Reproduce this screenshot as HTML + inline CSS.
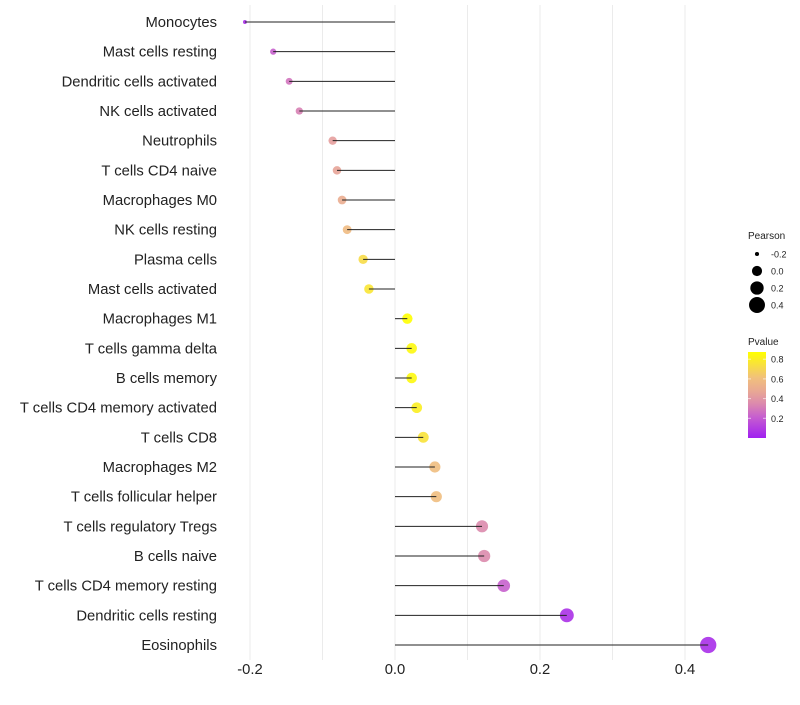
<!DOCTYPE html>
<html><head><meta charset="utf-8"><style>
body{margin:0;background:#fff;font-family:"Liberation Sans",sans-serif;}
svg text{font-family:"Liberation Sans",sans-serif;}
</style></head><body>
<svg id="chart" width="800" height="700"></svg>
<script>
const categories=["Monocytes","Mast cells resting","Dendritic cells activated","NK cells activated","Neutrophils","T cells CD4 naive","Macrophages M0","NK cells resting","Plasma cells","Mast cells activated","Macrophages M1","T cells gamma delta","B cells memory","T cells CD4 memory activated","T cells CD8","Macrophages M2","T cells follicular helper","T cells regulatory  Tregs ","B cells naive","T cells CD4 memory resting","Dendritic cells resting","Eosinophils"];
const pearson=[-0.207,-0.168,-0.146,-0.132,-0.086,-0.080,-0.073,-0.066,-0.044,-0.036,0.017,0.023,0.023,0.030,0.039,0.055,0.057,0.120,0.123,0.150,0.237,0.432];
const pvalue=[0.05,0.22,0.28,0.32,0.42,0.45,0.5,0.58,0.72,0.76,0.87,0.84,0.84,0.8,0.75,0.6,0.6,0.35,0.35,0.22,0.06,0.05];
const xTicks=[-0.2,0.0,0.2,0.4];
const sizeLegend=[-0.2,0.0,0.2,0.4];
const colorTicks=[0.8,0.6,0.4,0.2];

const NS="http://www.w3.org/2000/svg";
const svg=document.getElementById('chart');
const X=v=>395+v*725;
const Y=i=>22+i*(623/21);
const R=v=>Math.sqrt(5+Math.max(0,(v+0.21))/0.64*52)*(v<-0.19?0.85:1.08);
const stops=[[0,[160,32,240]],[0.2,[196,90,210]],[0.4,[228,155,160]],[0.6,[240,190,128]],[0.87,[255,255,0]]];
const col=p=>{p=Math.max(0,Math.min(0.87,p));
 for(let k=1;k<stops.length;k++){if(p<=stops[k][0]){const [p0,a]=stops[k-1],[p1,b]=stops[k];const t=(p-p0)/(p1-p0);
 return `rgb(${a.map((c,i)=>Math.round(c+(b[i]-c)*t)).join(',')})`;}}
 return 'rgb(255,255,0)';};
function el(tag,attrs,parent){const e=document.createElementNS(NS,tag);for(const k in attrs)e.setAttribute(k,attrs[k]);(parent||svg).appendChild(e);return e;}

for(let v=-0.2;v<=0.45;v+=0.1){
 const g=el('line',{x1:X(v),x2:X(v),y1:5,y2:660,stroke:'#ebebeb','stroke-width':1});
 
 
}
xTicks.forEach(v=>{
 const t=el('text',{x:X(v),y:674,'text-anchor':'middle','font-size':14.8,fill:'#222'});
 t.textContent=v.toFixed(1);
 
 
});
categories.forEach((c,i)=>{
 const t=el('text',{x:217,y:Y(i)+5,'text-anchor':'end','font-size':14.8,fill:'#222'});
 t.textContent=c;
 
 
 const d=el('circle',{cx:X(pearson[i]),cy:Y(i),r:R(pearson[i]),fill:col(pvalue[i]),'fill-opacity':0.9});
 
 
 const l=el('line',{x1:X(0),x2:X(pearson[i]),y1:Y(i),y2:Y(i),stroke:'#222','stroke-width':1});
 
 
});
let t=el('text',{x:748,y:239,'font-size':10,fill:'#222'});t.textContent='Pearson';


sizeLegend.forEach((v,i)=>{
 const y=254+i*17;
 const c=el('circle',{cx:757,cy:y,r:R(v),fill:'#000'});
 
 
 const tt=el('text',{x:771,y:y+3.5,'font-size':9,fill:'#222'});tt.textContent=v.toFixed(1);
 
 
});
t=el('text',{x:748,y:345,'font-size':10,fill:'#222'});t.textContent='Pvalue';


const defs=el('defs',{});const lg=el('linearGradient',{id:'pg',x1:0,y1:1,x2:0,y2:0},defs);
[0,0.1,0.25,0.4,0.55,0.7,0.85,1].forEach(s=>el('stop',{offset:s,'stop-color':col(s*0.87)},lg));
const bar=el('rect',{x:748,y:352,width:18,height:86,fill:'url(#pg)'});


colorTicks.forEach(v=>{
 const y=438-v/0.2*19.7;
 el('line',{x1:748,x2:751,y1:y,y2:y,stroke:'#fff','stroke-opacity':0.6});
 el('line',{x1:763,x2:766,y1:y,y2:y,stroke:'#fff','stroke-opacity':0.6});
 const tt=el('text',{x:771,y:y+3.5,'font-size':9,fill:'#222'});tt.textContent=v.toFixed(1);
 
 
});
</script>
</body></html>
